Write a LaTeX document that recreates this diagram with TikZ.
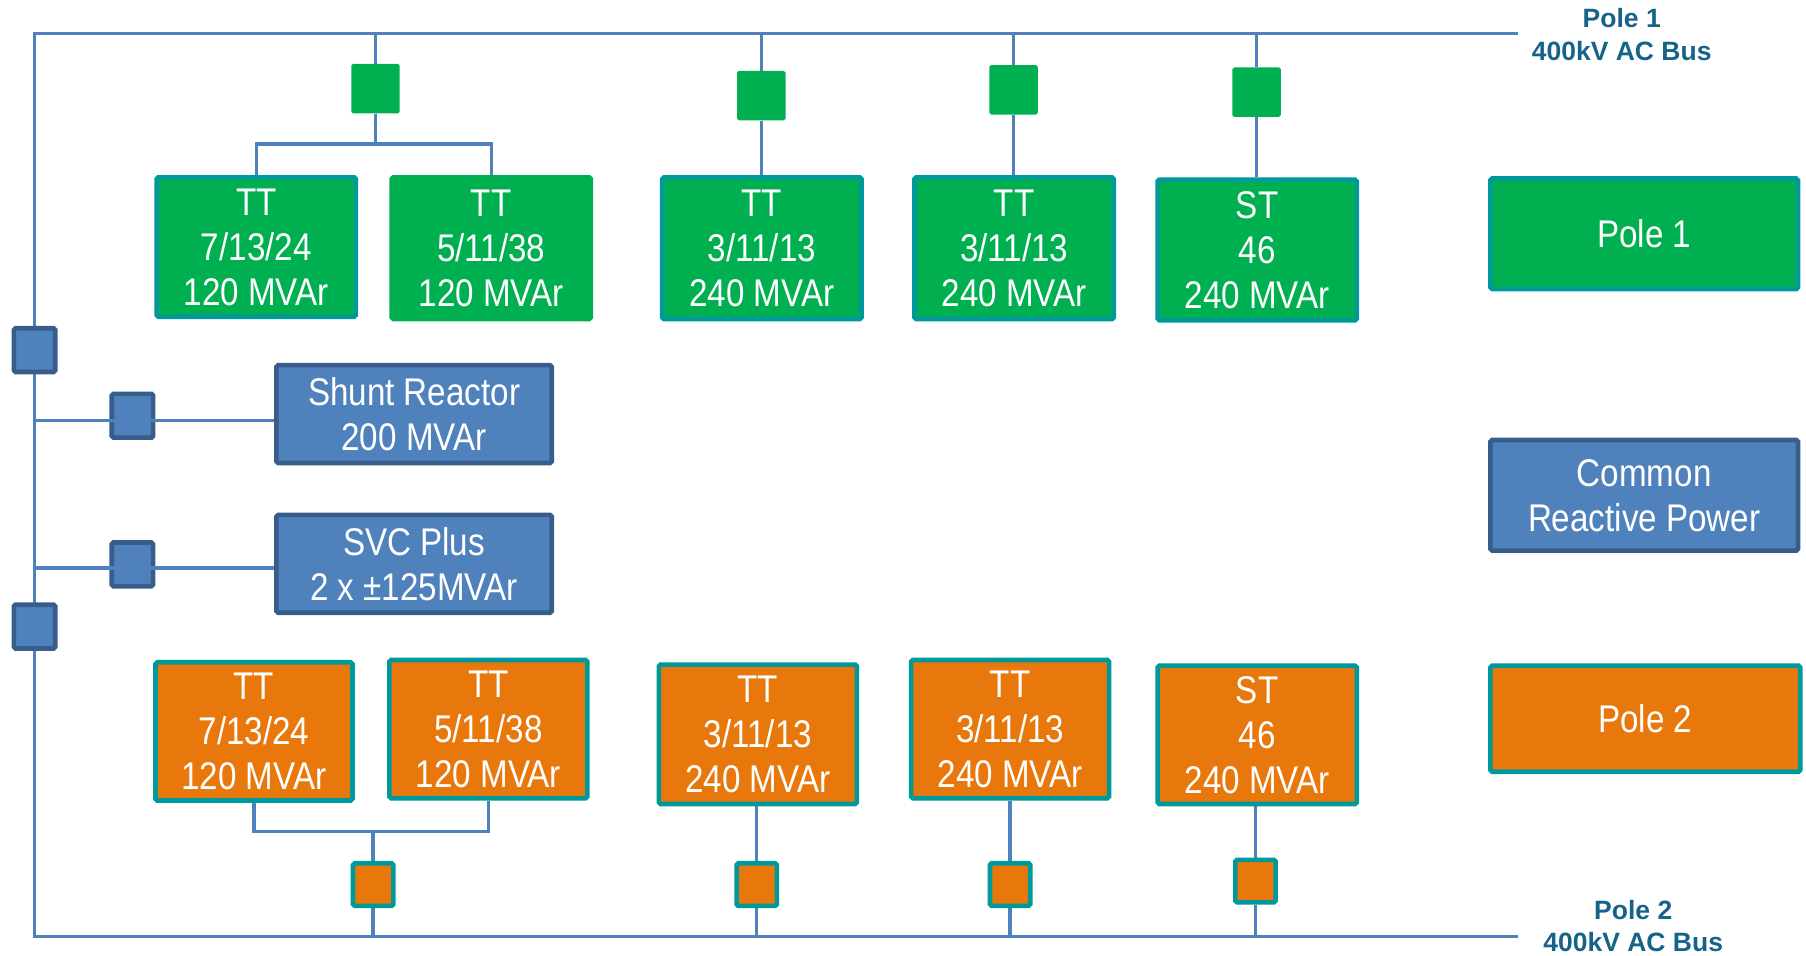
\documentclass[tikz,border=0pt]{standalone}
\usepackage{fontspec}
\setmainfont{Liberation Sans}
\newfontfamily\boxfont{Liberation Sans}[FakeStretch=0.86]
\definecolor{gfill}{RGB}{0,176,80}
\definecolor{tealb}{RGB}{0,153,153}
\definecolor{bfill}{RGB}{79,129,189}
\definecolor{bdraw}{RGB}{56,93,138}
\definecolor{ofill}{RGB}{233,120,12}
\definecolor{lbl}{RGB}{22,99,138}
\pgfdeclarelayer{bg}
\pgfsetlayers{bg,main}
\tikzset{
  box/.style={rounded corners=1.5pt, line width=4pt, text=white, align=center, inner sep=0pt,
    font=\boxfont\fontsize{33.5}{39}\selectfont},
  sz/.style 2 args={minimum width=#1pt, minimum height=#2pt},
  gbox/.style={box, fill=gfill, draw=tealb},
  obox/.style={box, fill=ofill, draw=tealb},
  bbox/.style={box, fill=bfill, draw=bdraw},
  gbrk/.style={rounded corners=1.5pt, fill=gfill, draw=none, minimum width=42pt, minimum height=43pt, inner sep=0pt},
  bbrk/.style={rounded corners=1.5pt, fill=bfill, draw=bdraw, line width=4pt, minimum width=36pt, minimum height=38pt, inner sep=0pt},
  obrk/.style={rounded corners=1.5pt, fill=ofill, draw=tealb, line width=4pt, minimum width=35pt, minimum height=37pt, inner sep=0pt},
  bus/.style={draw=bfill, line width=3pt},
  buslbl/.style={text=lbl, align=center, font=\bfseries\fontsize{23}{28}\selectfont, inner sep=0pt}
}
\begin{document}
\begin{tikzpicture}[x=1pt,y=-1pt]
\useasboundingbox (0,0) rectangle (1568,830);
% bus corner coordinates
\coordinate (TL) at (30,29);
\coordinate (TR) at (1318,29);
\coordinate (BL) at (30,813);
\coordinate (BR) at (1318,813);
\coordinate (j1) at (326,125);
\coordinate (j2) at (324,722);
% Pole 1 boxes
\node[gbox, sz={173}{121}] (A) at (222.5,214.5) {TT\\7/13/24\\120 MVAr};
\node[gbox, draw=gfill, sz={173}{123}] (B) at (426.5,215.5) {TT\\5/11/38\\120 MVAr};
\node[gbox, sz={173}{123}] (C) at (661.5,215.5) {TT\\3/11/13\\240 MVAr};
\node[gbox, sz={173}{123}] (D) at (880.5,215.5) {TT\\3/11/13\\240 MVAr};
\node[gbox, sz={173}{122}] (E) at (1091.5,217) {ST\\46\\240 MVAr};
\node[gbox, sz={267}{96}] (P1) at (1427.5,203) {Pole 1};
% common
\node[bbox, sz={239}{85}] (SR) at (359.5,359.5) {Shunt Reactor\\200 MVAr};
\node[bbox, sz={239}{85}] (SVC) at (359.5,489.5) {SVC Plus\\2 x ±125MVAr};
\node[bbox, sz={267}{96}] (CRP) at (1427.5,430) {Common\\Reactive Power};
% Pole 2 boxes
\node[obox, sz={171}{120}] (F) at (220.5,635) {TT\\7/13/24\\120 MVAr};
\node[obox, sz={172}{120}] (G) at (424,633) {TT\\5/11/38\\120 MVAr};
\node[obox, sz={172}{121}] (H) at (658,637.5) {TT\\3/11/13\\240 MVAr};
\node[obox, sz={172}{120}] (I) at (877,633) {TT\\3/11/13\\240 MVAr};
\node[obox, sz={173}{120}] (J) at (1091.5,638) {ST\\46\\240 MVAr};
\node[obox, sz={269}{92}] (P2) at (1428.5,624) {Pole 2};
% breakers
\node[gbrk] (g1) at (326,77) {};
\node[gbrk] (g2) at (661,83) {};
\node[gbrk] (g3) at (880,78) {};
\node[gbrk] (g4) at (1091,80) {};
\node[bbrk] (b1) at (30,304) {};
\node[bbrk] (b2) at (30,544) {};
\node[bbrk] (b3) at (115,361) {};
\node[bbrk] (b4) at (115,490) {};
\node[obrk] (o1) at (324,768) {};
\node[obrk] (o2) at (657,768) {};
\node[obrk] (o3) at (877,768) {};
\node[obrk] (o4) at (1090,765) {};
% labels
\node[buslbl] (l1) at (1408,30) {Pole 1\\400kV AC Bus};
\node[buslbl] (l2) at (1418,804) {Pole 2\\400kV AC Bus};
% connectors behind
\begin{pgfonlayer}{bg}
\draw[bus] (TR) -- (TL) -- (BL) -- (BR);
\draw[bus] (g1 |- TL) -- (g1) -- (j1);
\draw[bus] (A.north) |- (j1) -| (B.north);
\draw[bus] (g2 |- TL) -- (g2) -- (g2 |- C.north);
\draw[bus] (g3 |- TL) -- (g3) -- (g3 |- D.north);
\draw[bus] (g4 |- TL) -- (g4) -- (g4 |- E.north);
\draw[bus] (F.south) |- (j2) -| (G.south);
\draw[bus] (j2) -- (o1) -- (o1 |- BL);
\draw[bus] (o2 |- H.south) -- (o2) -- (o2 |- BL);
\draw[bus] (o3 |- I.south) -- (o3) -- (o3 |- BL);
\draw[bus] (o4 |- J.south) -- (o4) -- (o4 |- BL);
\end{pgfonlayer}
% shunt and SVC feeders drawn over their breakers
\draw[bus] (TL |- 0,365) -- (SR.west |- 0,365);
\draw[bus] (TL |- 0,493) -- (SVC.west |- 0,493);
\end{tikzpicture}
\end{document}
